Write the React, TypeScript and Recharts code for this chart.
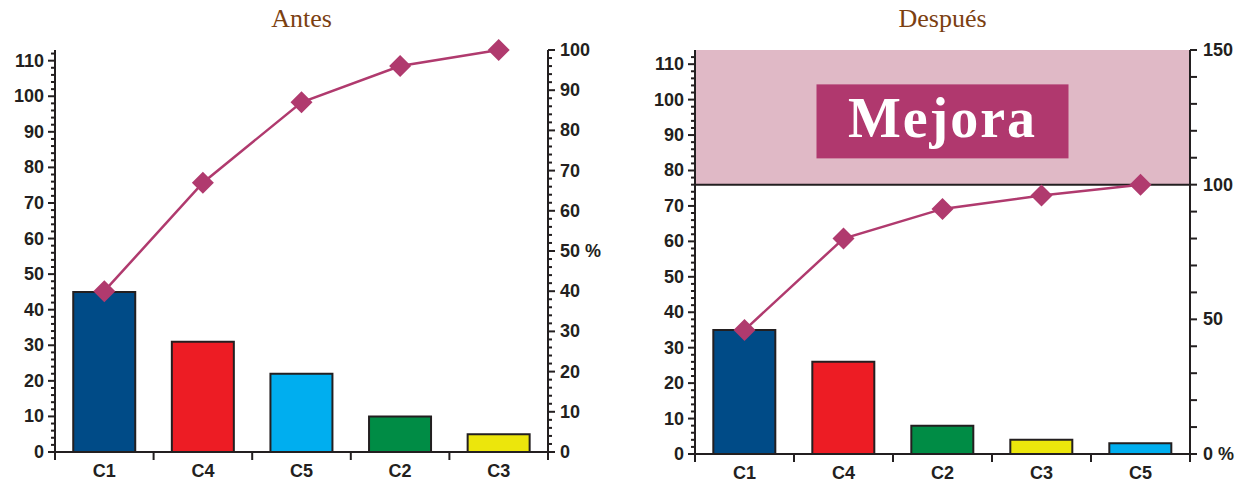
import React from 'react';
import {ComposedChart, Bar, Line, XAxis, YAxis, Cell, ReferenceArea, ReferenceLine} from 'recharts';

// Antes
const antesCats = ['C1', 'C4', 'C5', 'C2', 'C3'];
const antesValues = [45, 31, 22, 10, 5];
const antesPct = [40, 67, 87, 96, 100];
const antesColors = ['#004b87', '#ed1c24', '#00aeef', '#008c45', '#ece60c'];

// Después
const despuesCats = ['C1', 'C4', 'C2', 'C3', 'C5'];
const despuesValues = [35, 26, 8, 4, 3];
const despuesPct = [46, 80, 91, 96, 100];
const despuesColors = ['#004b87', '#ed1c24', '#008c45', '#ece60c', '#00aeef'];

const leftTicks = [0, 2, 4, 6, 8, 10, 12, 14, 16, 18, 20, 22, 24, 26, 28, 30, 32, 34, 36, 38, 40, 42, 44, 46, 48, 50, 52, 54, 56, 58, 60, 62, 64, 66, 68, 70, 72, 74, 76, 78, 80, 82, 84, 86, 88, 90, 92, 94, 96, 98, 100, 102, 104, 106, 108, 110, 112];
const pctTicks = [0, 2, 4, 6, 8, 10, 12, 14, 16, 18, 20, 22, 24, 26, 28, 30, 32, 34, 36, 38, 40, 42, 44, 46, 48, 50, 52, 54, 56, 58, 60, 62, 64, 66, 68, 70, 72, 74, 76, 78, 80, 82, 84, 86, 88, 90, 92, 94, 96, 98, 100];
const pct150Ticks = [0, 10, 20, 30, 40, 50, 60, 70, 80, 90, 100, 110, 120, 130, 140, 150];

const antesData = antesCats.map((c, i) => ({cat: c, value: antesValues[i], pct: antesPct[i]}));
const despuesData = despuesCats.map((c, i) => ({cat: c, value: despuesValues[i], pct: despuesPct[i]}));

const INK = '#231f20';
const LINE = '#b03a6e';
const FONT = '"Liberation Sans Narrow", "Liberation Sans", Arial, sans-serif';

const LeftTick = (props: any) => {
	const {x, y, payload} = props;
	const v = payload.value;
	const major = v % 10 === 0;
	return (
		<g>
			<line x1={x} y1={y} x2={x - (major ? 7 : 4)} y2={y} stroke={INK} strokeWidth={2}/>
			{major && (
				<text x={x - 11} y={y} textAnchor="end" dominantBaseline="central" fontFamily={FONT} fontWeight="bold" fontSize={18} fill={INK}>{v}</text>
			)}
		</g>
	);
};

const PctTick = (props: any) => {
	const {x, y, payload} = props;
	const v = payload.value;
	const major = v % 10 === 0;
	return (
		<g>
			<line x1={x} y1={y} x2={x + (major ? 7 : 4)} y2={y} stroke={INK} strokeWidth={2}/>
			{major && (
				<text x={x + 12} y={y} textAnchor="start" dominantBaseline="central" fontFamily={FONT} fontWeight="bold" fontSize={18} fill={INK}>{v === 50 ? '50 %' : v}</text>
			)}
		</g>
	);
};

const Pct150Tick = (props: any) => {
	const {x, y, payload} = props;
	const v = payload.value;
	const major = v % 50 === 0;
	return (
		<g>
			<line x1={x} y1={y} x2={x + 7} y2={y} stroke={INK} strokeWidth={2}/>
			{major && (
				<text x={x + 13} y={y} textAnchor="start" dominantBaseline="central" fontFamily={FONT} fontWeight="bold" fontSize={18} fill={INK}>{v === 0 ? '0 %' : v}</text>
			)}
		</g>
	);
};

const makeCatTick = (band: number, n: number) => (props: any) => {
	const {x, y, payload, index} = props;
	return (
		<g>
			<line x1={x - band / 2} y1={y} x2={x - band / 2} y2={y + 8} stroke={INK} strokeWidth={2}/>
			{index === n - 1 && <line x1={x + band / 2} y1={y} x2={x + band / 2} y2={y + 8} stroke={INK} strokeWidth={2}/>}
			<text x={x} y={y + 19} textAnchor="middle" dominantBaseline="central" fontFamily={FONT} fontWeight="bold" fontSize={18} fill={INK}>{payload.value}</text>
		</g>
	);
};

const Diamond = (props: any) => {
	const {cx, cy} = props;
	if (cx == null || cy == null) return null;
	const r = 11;
	return <polygon points={`${cx},${cy - r} ${cx + r},${cy} ${cx},${cy + r} ${cx - r},${cy}`} fill={LINE}/>;
};

const renderMejora = (props: any) => {
	const vb = props.viewBox || {};
	const cx = vb.x + vb.width / 2;
	const cy = vb.y + vb.height * 0.53;
	return (
		<g>
			<rect x={cx - 126} y={cy - 37} width={252} height={74} fill="#b0386e"/>
			<text x={cx} y={cy + 16} textAnchor="middle" fontFamily='"Liberation Serif", "DejaVu Serif", serif' fontWeight="bold" fontSize={56} letterSpacing={2} fill="#ffffff">Mejora</text>
		</g>
	);
};

const titleStyle: React.CSSProperties = {
	position: 'absolute',
	top: 4,
	fontFamily: '"Liberation Serif", "DejaVu Serif", serif',
	fontSize: 26,
	color: '#7b4011',
	textAlign: 'center',
};

const App = () => {
	const antesBand = (620 - 55 - 72) / antesCats.length;
	const despuesBand = (607 - 55 - 57) / despuesCats.length;
	return (
		<div style={{position: 'absolute', left: 0, top: 0, width: 1247, height: 488, background: '#fff'}}>
			<div style={{...titleStyle, left: 55, width: 493}}>Antes</div>
			<div style={{...titleStyle, left: 695, width: 495}}>Después</div>

			<div style={{position: 'absolute', left: 0, top: 0}}>
				<ComposedChart width={620} height={488} data={antesData} margin={{top: 50, right: 0, bottom: 0, left: 0}} barCategoryGap="18.5%">
					<XAxis xAxisId="top" orientation="top" dataKey="cat" height={0} tick={false} tickLine={false} axisLine={{stroke: INK, strokeWidth: 2}}/>
					<XAxis dataKey="cat" height={36} interval={0} tickSize={0} tickMargin={0} tickLine={false} axisLine={{stroke: INK, strokeWidth: 2}} tick={makeCatTick(antesBand, antesCats.length)}/>
					<YAxis yAxisId="left" orientation="left" width={55} domain={[0, 113]} ticks={leftTicks} interval={0} tickSize={0} tickMargin={0} tickLine={false} axisLine={{stroke: INK, strokeWidth: 2}} tick={<LeftTick/>}/>
					<YAxis yAxisId="right" orientation="right" width={72} domain={[0, 100]} ticks={pctTicks} interval={0} tickSize={0} tickMargin={0} tickLine={false} axisLine={{stroke: INK, strokeWidth: 2}} tick={<PctTick/>}/>
					<Bar yAxisId="left" dataKey="value" stroke={INK} strokeWidth={2} isAnimationActive={false}>
						{antesData.map((d, i) => <Cell key={d.cat} fill={antesColors[i]}/>)}
					</Bar>
					<Line yAxisId="right" dataKey="pct" type="linear" stroke={LINE} strokeWidth={2.5} dot={<Diamond/>} activeDot={false} isAnimationActive={false}/>
				</ComposedChart>
			</div>

			<div style={{position: 'absolute', left: 640, top: 0}}>
				<ComposedChart width={607} height={488} data={despuesData} margin={{top: 50, right: 0, bottom: 0, left: 0}} barCategoryGap="18.5%">
					<ReferenceArea yAxisId="right" y1={100} y2={150} fill="#e0b9c6" fillOpacity={1} stroke="none" label={renderMejora}/>
					<ReferenceLine yAxisId="right" y={100} stroke={INK} strokeWidth={2}/>
					<XAxis xAxisId="top" orientation="top" dataKey="cat" height={0} tick={false} tickLine={false} axisLine={{stroke: INK, strokeWidth: 2}}/>
					<XAxis dataKey="cat" height={34} interval={0} tickSize={0} tickMargin={0} tickLine={false} axisLine={{stroke: INK, strokeWidth: 2}} tick={makeCatTick(despuesBand, despuesCats.length)}/>
					<YAxis yAxisId="left" orientation="left" width={55} domain={[0, 114]} ticks={leftTicks} interval={0} tickSize={0} tickMargin={0} tickLine={false} axisLine={{stroke: INK, strokeWidth: 2}} tick={<LeftTick/>}/>
					<YAxis yAxisId="right" orientation="right" width={57} domain={[0, 150]} ticks={pct150Ticks} interval={0} tickSize={0} tickMargin={0} tickLine={false} axisLine={{stroke: INK, strokeWidth: 2}} tick={<Pct150Tick/>}/>
					<Bar yAxisId="left" dataKey="value" stroke={INK} strokeWidth={2} isAnimationActive={false}>
						{despuesData.map((d, i) => <Cell key={d.cat} fill={despuesColors[i]}/>)}
					</Bar>
					<Line yAxisId="right" dataKey="pct" type="linear" stroke={LINE} strokeWidth={2.5} dot={<Diamond/>} activeDot={false} isAnimationActive={false}/>
				</ComposedChart>
			</div>
		</div>
	);
};

export default App;
